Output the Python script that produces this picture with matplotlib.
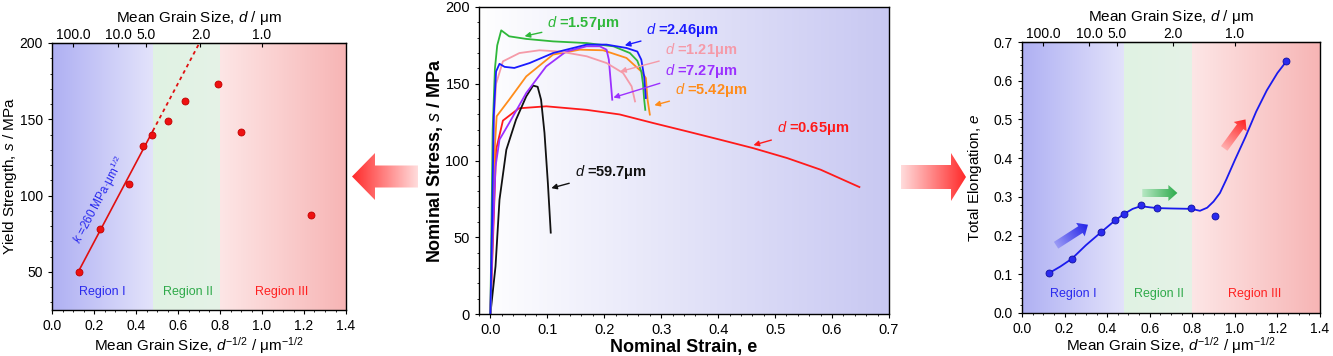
import numpy as np
import matplotlib.pyplot as plt
from matplotlib.patches import Polygon
from matplotlib.colors import to_rgb

plt.rcParams['font.family'] = ['Liberation Sans', 'DejaVu Sans']
plt.rcParams['mathtext.fontset'] = 'custom'
plt.rcParams['mathtext.rm'] = 'Liberation Sans'
plt.rcParams['mathtext.it'] = 'Liberation Sans:italic'
plt.rcParams['mathtext.bf'] = 'Liberation Sans:bold'

# ---- data: yield strength vs d^-1/2 (left)
ys_x = [0.129, 0.229, 0.367, 0.435, 0.475, 0.554, 0.634, 0.791, 0.902, 1.231]
ys_y = [50, 78.4, 107.4, 132.4, 139.8, 149.2, 162.3, 173.4, 141.6, 87.1]
hp_k = 260
hp_s0 = 17.5
hp_solid = [0.12, 0.48]
hp_dotted = [0.48, 0.702]

# ---- data: stress-strain curves (middle)
curves = {
    "0.65": ([0.0, 0.005, 0.01, 0.022, 0.05, 0.098, 0.169, 0.227, 0.286, 0.345, 0.403, 0.462, 0.521, 0.58, 0.648],
             [0, 53, 107, 126, 134, 135.3, 133, 130, 124.4, 119, 113.6, 108, 101.6, 94, 82.7]),
    "59.7": ([0, 0.009, 0.016, 0.028, 0.045, 0.063, 0.075, 0.083, 0.089, 0.095, 0.101, 0.106],
             [0, 31, 74.5, 107, 126.6, 141.8, 148.8, 148, 139.6, 118, 85, 53]),
    "5.42": ([0, 0.004, 0.008, 0.011, 0.033, 0.063, 0.11, 0.157, 0.198, 0.239, 0.265, 0.273, 0.276, 0.28],
             [0, 60, 110, 128.8, 139.6, 154.8, 169, 172.2, 171.8, 166.8, 158, 153.7, 139.6, 129.9]),
    "7.27": ([0, 0.004, 0.009, 0.016, 0.033, 0.063, 0.098, 0.133, 0.169, 0.192, 0.204, 0.208, 0.211, 0.214],
             [0, 50, 96, 113.6, 124.4, 144, 161.3, 171, 174.4, 174.4, 172.2, 165.7, 152.7, 139.6]),
    "1.21": ([0, 0.003, 0.006, 0.01, 0.022, 0.051, 0.086, 0.122, 0.169, 0.204, 0.233, 0.248, 0.254],
             [0, 70, 125, 150, 164.6, 170, 171.8, 171, 167.9, 163.5, 157, 148.3, 138.5]),
    "1.57": ([0, 0.002, 0.004, 0.008, 0.012, 0.019, 0.033, 0.063, 0.11, 0.169, 0.216, 0.245, 0.258, 0.265, 0.268, 0.27, 0.272],
             [0, 60, 120, 160, 175, 184.8, 180.9, 179.2, 177.6, 176.5, 174.4, 170, 165, 158, 150, 140, 133]),
    "2.46": ([0, 0.003, 0.006, 0.01, 0.016, 0.025, 0.042, 0.069, 0.11, 0.169, 0.204, 0.239, 0.258, 0.265, 0.27, 0.273],
             [0, 60, 130, 158, 163, 161, 160.3, 163.5, 170, 175.5, 175.5, 173.3, 171, 165.7, 154.8, 140.7]),
}
curve_colors = {"0.65": "#ff1a1a", "59.7": "#111111", "5.42": "#ff8c1a", "7.27": "#9b30ff",
                "1.21": "#f59aa8", "1.57": "#2fb83a", "2.46": "#1a1aff"}

# ---- data: total elongation (right)
el_x = [0.127, 0.234, 0.372, 0.437, 0.48, 0.558, 0.636, 0.796, 0.908, 1.242]
el_y = [0.103, 0.140, 0.209, 0.239, 0.256, 0.278, 0.271, 0.270, 0.251, 0.650]
el_fit_x = [0.127, 0.18, 0.234, 0.30, 0.372, 0.437, 0.48, 0.52, 0.558, 0.60, 0.636, 0.70, 0.796,
            0.836, 0.87, 0.90, 0.93, 0.96, 1.0, 1.05, 1.10, 1.15, 1.20, 1.242]
el_fit_y = [0.103, 0.120, 0.140, 0.175, 0.209, 0.239, 0.256, 0.269, 0.276, 0.273, 0.271, 0.270, 0.269,
            0.264, 0.272, 0.288, 0.31, 0.345, 0.395, 0.455, 0.52, 0.575, 0.62, 0.65]

top_d = [100.0, 10.0, 5.0, 2.0, 1.0]
region_edges = [0.0, 0.48, 0.80, 1.4]


def hgrad(ax, x0, x1, y0, y1, c0, c1):
    c0, c1 = np.array(to_rgb(c0)), np.array(to_rgb(c1))
    t = np.linspace(0, 1, 256)[None, :, None]
    img = c0 + (c1 - c0) * t
    ax.imshow(img, extent=(x0, x1, y0, y1), aspect='auto', interpolation='bilinear', zorder=0)


def region_bg(ax, ylo, yhi):
    hgrad(ax, region_edges[0], region_edges[1], ylo, yhi, "#afb0f3", "#e3e3fb")
    hgrad(ax, region_edges[1], region_edges[2], ylo, yhi, "#e0f2e3", "#e5f3e7")
    hgrad(ax, region_edges[2], region_edges[3], ylo, yhi, "#fde6e6", "#f7b5b5")


def top_axis(ax):
    sec = ax.secondary_xaxis('top')
    sec.set_xticks([d ** -0.5 for d in top_d])
    sec.set_xticklabels([f"{d:.1f}" for d in top_d])
    sec.tick_params(direction='in', length=3, labelsize=10, pad=1)
    sec.set_xlabel("Mean Grain Size, $d$ / μm", fontsize=11, labelpad=4)


def region_labels(ax, y):
    ax.text(0.24, y, "Region I", color="#2a2aee", fontsize=9, ha='center', va='center')
    ax.text(0.645, y, "Region II", color="#2faa4a", fontsize=9, ha='center', va='center')
    ax.text(1.095, y, "Region III", color="#ff2020", fontsize=9, ha='center', va='center')


fig = plt.figure(figsize=(13.33, 3.56), dpi=100)

# ---------- left panel
ax1 = fig.add_axes([52 / 1333, 46 / 356, 294 / 1333, 267 / 356])
region_bg(ax1, 25, 200)
xs = np.array(hp_solid)
ax1.plot(xs, hp_s0 + hp_k * xs, color="#e01010", lw=1.2, zorder=2)
xd = np.array(hp_dotted)
ax1.plot(xd, hp_s0 + hp_k * xd, color="#e01010", lw=1.3, ls=(0, (2, 2)), zorder=2)
ax1.plot(ys_x, ys_y, 'o', ms=5, color="#ee1111", mec="#c00000", mew=0.6, zorder=3)
ax1.text(0.225, 97, "$k$ =260 MPa·μm$^{1/2}$", color="#2a2aee", fontsize=8.5, rotation=62,
         ha='center', va='center', rotation_mode='anchor')
region_labels(ax1, 36.5)
ax1.set_xlim(0, 1.4)
ax1.set_ylim(25, 200)
ax1.set_xticks(np.arange(0, 1.41, 0.2))
ax1.set_yticks([50, 100, 150, 200])
ax1.set_xlabel("Mean Grain Size, $d^{-1/2}$ / μm$^{-1/2}$", fontsize=11)
ax1.set_ylabel("Yield Strength, $s$ / MPa", fontsize=11)
ax1.xaxis.set_label_coords(0.5, -0.095)
ax1.yaxis.set_label_coords(-0.112, 0.5)
ax1.tick_params(labelsize=10, length=3)
top_axis(ax1)

# ---------- middle panel
ax2 = fig.add_axes([479 / 1333, 42 / 356, 410 / 1333, 307 / 356])
hgrad(ax2, -0.02, 0.7, 0, 200, "#ffffff", "#c8c8f2")
for key in ["0.65", "59.7", "5.42", "7.27", "1.21", "1.57", "2.46"]:
    cx, cy = curves[key]
    ax2.plot(cx, cy, color=curve_colors[key], lw=1.3, zorder=2)

labels_mid = [
    ("1.57", (0.10, 189.5), (0.060, 181)),
    ("2.46", (0.274, 185), (0.236, 175)),
    ("1.21", (0.306, 172), (0.228, 158)),
    ("7.27", (0.306, 158.5), (0.216, 141)),
    ("5.42", (0.324, 146), (0.288, 136)),
    ("0.65", (0.503, 121), (0.462, 110)),
    ("59.7", (0.148, 92.5), (0.107, 82)),
]
for key, txt_xy, tip in labels_mid:
    c = curve_colors[key]
    ax2.annotate(f"$d$ ={key}μm", xy=tip, xytext=txt_xy, color=c, fontsize=10.5,
                 fontweight='bold', ha='left', va='center', zorder=4,
                 arrowprops=dict(arrowstyle='-|>', color=c, lw=1.0, mutation_scale=8,
                                 shrinkA=2, shrinkB=0))
ax2.set_xlim(-0.02, 0.7)
ax2.set_ylim(0, 200)
ax2.set_xticks(np.arange(0, 0.71, 0.1))
ax2.set_yticks([0, 50, 100, 150, 200])
ax2.set_xlabel("Nominal Strain, e", fontsize=13, fontweight='bold')
ax2.set_ylabel("Nominal Stress, $s$ / MPa", fontsize=13, fontweight='bold')
ax2.xaxis.set_label_coords(0.5, -0.082)
ax2.yaxis.set_label_coords(-0.082, 0.5)
ax2.tick_params(labelsize=10.5, length=3)

# ---------- right panel
ax3 = fig.add_axes([1022 / 1333, 43 / 356, 298 / 1333, 271 / 356])
region_bg(ax3, 0, 0.7)
ax3.plot(el_fit_x, el_fit_y, color="#1a1aee", lw=1.3, zorder=2)
ax3.plot(el_x, el_y, 'o', ms=5, color="#2a2aee", mec="#1010a0", mew=0.6, zorder=3)
region_labels(ax3, 0.049)
ax3.set_xlim(0, 1.4)
ax3.set_ylim(0, 0.7)
ax3.set_xticks(np.arange(0, 1.41, 0.2))
ax3.set_yticks(np.arange(0, 0.71, 0.1))
ax3.set_xlabel("Mean Grain Size, $d^{-1/2}$ / μm$^{-1/2}$", fontsize=11)
ax3.set_ylabel("Total Elongation, $e$", fontsize=11)
ax3.xaxis.set_label_coords(0.5, -0.083)
ax3.yaxis.set_label_coords(-0.126, 0.5)
ax3.tick_params(labelsize=10, length=3)
top_axis(ax3)

for a in (ax1, ax2, ax3):
    a.minorticks_on()
    a.tick_params(which='minor', length=1.5)
    for s in a.spines.values():
        s.set_linewidth(1.0)

# ---------- overlay for block arrows (pixel coordinates)
ov = fig.add_axes([0, 0, 1, 1], zorder=10)
ov.set_xlim(0, 1333)
ov.set_ylim(356, 0)
ov.axis('off')


def block_arrow(tail, tip, sw, hw, hl, c_tail, c_tip):
    tail, tip = np.array(tail, float), np.array(tip, float)
    d = tip - tail
    L = np.hypot(*d)
    u = d / L
    n = np.array([-u[1], u[0]])
    base = tip - u * hl
    pts = [tail + n * sw / 2, base + n * sw / 2, base + n * hw / 2, tip,
           base - n * hw / 2, base - n * sw / 2, tail - n * sw / 2]
    poly = Polygon(pts, closed=True, fc='none', ec='none')
    ov.add_patch(poly)
    pts = np.array(pts)
    x0, x1 = pts[:, 0].min(), pts[:, 0].max()
    y0, y1 = pts[:, 1].min(), pts[:, 1].max()
    gx, gy = np.meshgrid(np.linspace(x0, x1, 120), np.linspace(y0, y1, 120))
    t = ((gx - tail[0]) * u[0] + (gy - tail[1]) * u[1]) / L
    t = np.clip(t, 0, 1)[..., None]
    ca, cb = np.array(to_rgb(c_tail)), np.array(to_rgb(c_tip))
    img = ca + (cb - ca) * t
    im = ov.imshow(img, extent=(x0, x1, y1, y0), origin='upper', aspect='auto',
                   interpolation='bilinear')
    im.set_clip_path(poly)


# big arrows between panels
block_arrow((418, 176.5), (352, 176.5), 22, 47, 23, "#ffdcdc", "#ff2a2a")
block_arrow((901, 177), (966, 177), 24, 48, 15, "#ffdcdc", "#ff2a2a")


def data_px(ax, x, y):
    p = ax.transData.transform((x, y))
    return ov.transData.inverted().transform(p)


# small arrows inside right panel
block_arrow(data_px(ax3, 0.16, 0.175), data_px(ax3, 0.31, 0.228), 8, 16, 9, "#9a9af5", "#2020e8")
block_arrow(data_px(ax3, 0.565, 0.31), data_px(ax3, 0.73, 0.31), 8, 16, 9, "#b8e8c4", "#2aaa4a")
block_arrow(data_px(ax3, 0.95, 0.425), data_px(ax3, 1.05, 0.50), 8, 16, 9, "#ffb0b0", "#ff2020")

fig.savefig("out.png", dpi=100)
